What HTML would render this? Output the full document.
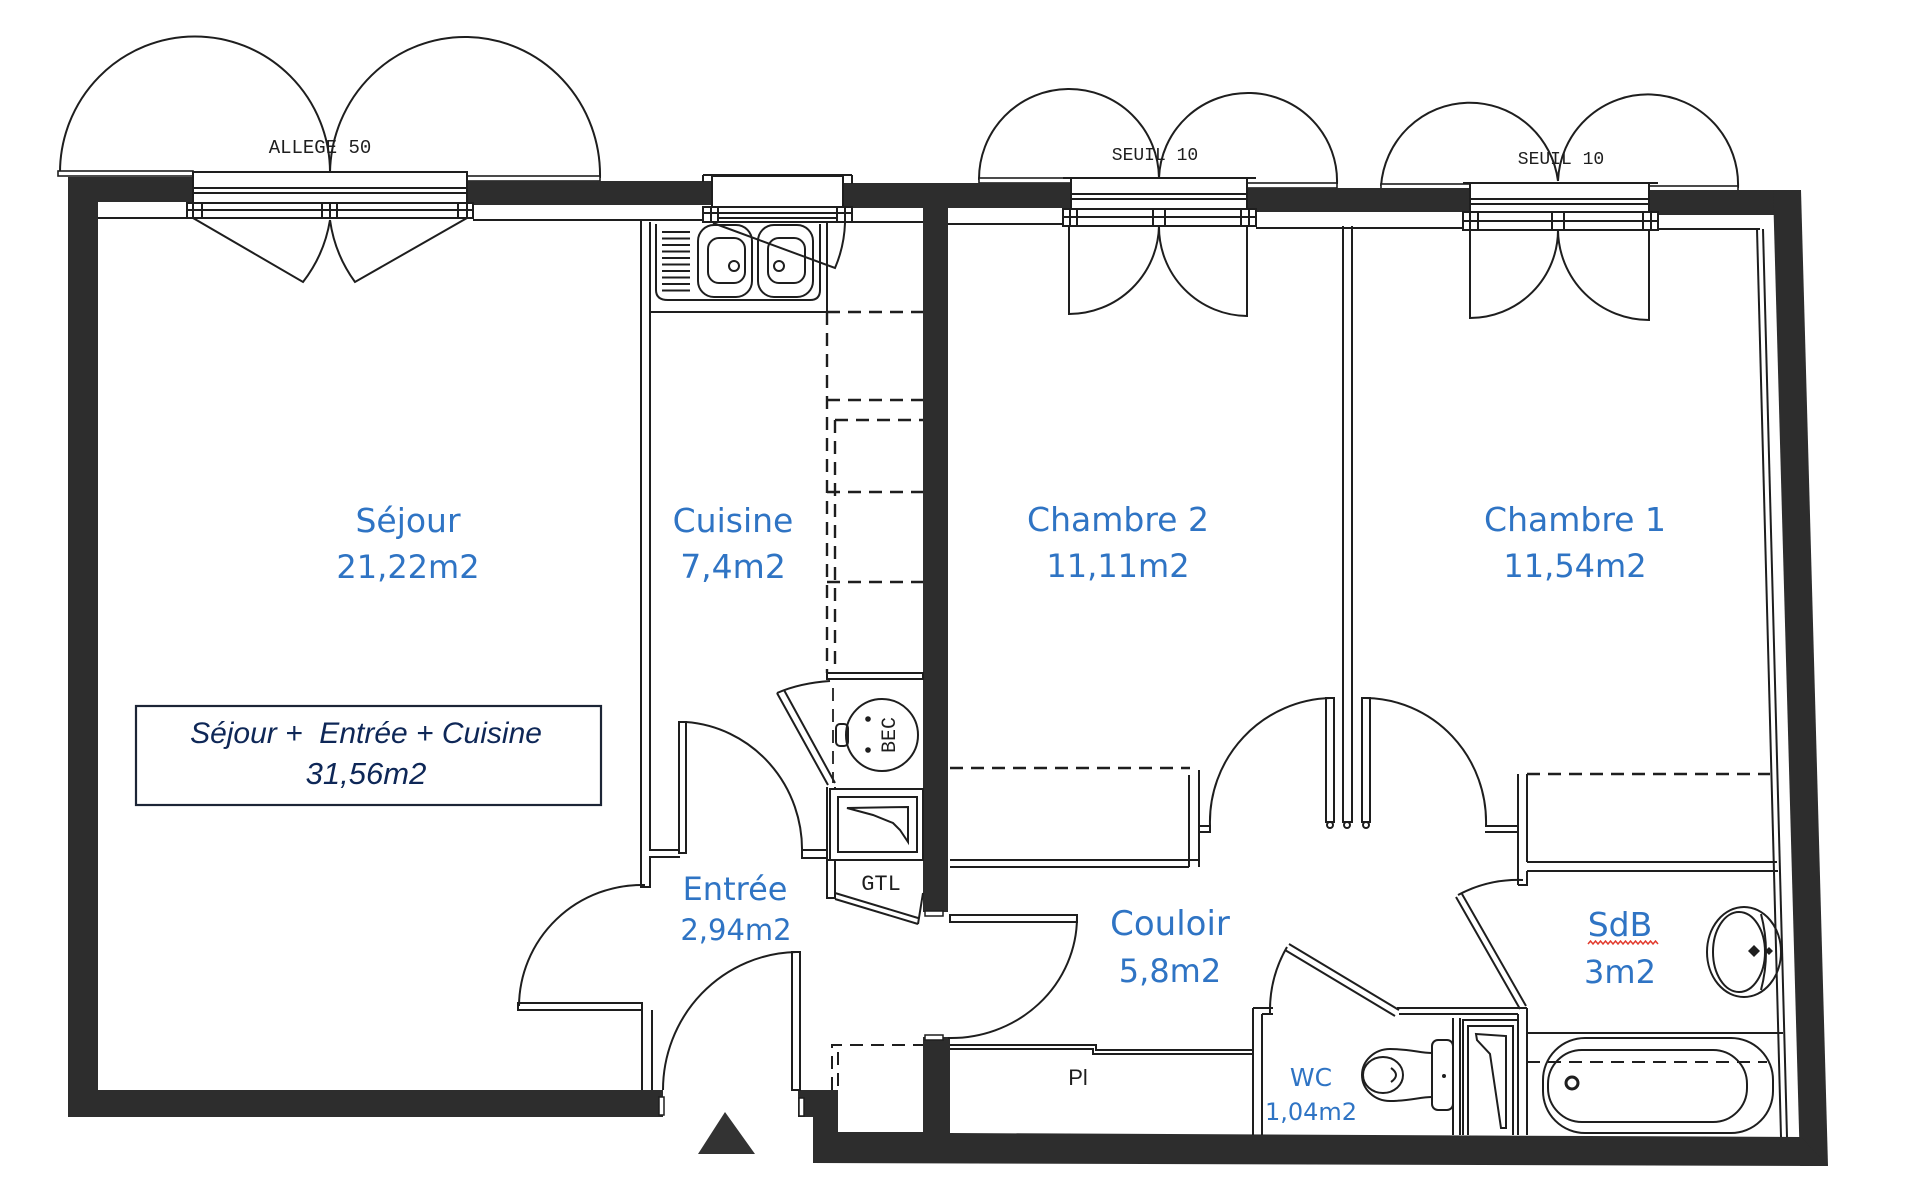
<!DOCTYPE html>
<html><head><meta charset="utf-8">
<style>
html,body{margin:0;padding:0;background:#fff;}
svg{display:block;}
.l{fill:none;stroke:#1e1e1e;stroke-width:2;}
.f{fill:#fff;stroke:#1e1e1e;stroke-width:2;}
.d{fill:none;stroke:#1e1e1e;stroke-width:2.4;stroke-dasharray:13 8;}
.lab{font-family:"DejaVu Sans",sans-serif;fill:#2f74c4;text-anchor:middle;}
.cad{font-family:"Liberation Mono",monospace;fill:#1e1e1e;text-anchor:middle;}
.box{font-family:"Liberation Sans",sans-serif;font-style:italic;fill:#0e2757;text-anchor:middle;}
</style></head><body>
<svg width="1910" height="1200" viewBox="0 0 1910 1200" xmlns="http://www.w3.org/2000/svg">
<rect width="1910" height="1200" fill="#fff"/>

<!-- ===== shutter arcs (outside) ===== -->
<g class="l">
<path d="M60,173 A135,136 0 0 1 330,172"/>
<path d="M330,172 A135,138 0 0 1 600,178"/>
<path d="M979,180 A90,90 0 0 1 1159,178"/>
<path d="M1159,178 A89,88 0 0 1 1337,184"/>
<path d="M1381,186 A89,90 0 0 1 1558,181"/>
<path d="M1558,181 A90,90 0 0 1 1738,188"/>
</g>
<!-- sills -->
<g class="f" style="stroke-width:1.6">
<rect x="58" y="171" width="135" height="5"/>
<rect x="467" y="176" width="133" height="5"/>
<rect x="979" y="178" width="92" height="5"/>
<rect x="1247" y="183" width="90" height="5"/>
<rect x="1381" y="184" width="89" height="5"/>
<rect x="1649" y="186" width="89" height="5"/>
</g>

<!-- ===== black walls ===== -->
<g fill="#2d2d2d">
<rect x="68" y="177" width="30" height="940"/>
<rect x="68" y="177" width="125" height="25"/>
<rect x="467" y="181" width="245" height="24"/>
<rect x="843" y="183" width="228" height="25"/>
<rect x="923" y="183" width="25" height="729"/>
<rect x="1247" y="188" width="223" height="24"/>
<rect x="1649" y="190" width="152" height="25"/>
<polygon points="1773,190 1801,190 1828,1166 1800,1166"/>
<rect x="68" y="1090" width="595" height="27"/>
<polygon points="798,1090 838,1090 838,1132 923,1132 923,1037 950,1037 950,1133 1801,1137 1828,1166 813,1163 813,1117 798,1117"/>
</g>
<!-- caps -->
<g class="f" style="stroke-width:1.5">
<rect x="659" y="1097" width="5" height="18"/>
<rect x="799" y="1098" width="5" height="18"/>
<rect x="925" y="1035" width="18" height="5"/>
<rect x="925" y="911" width="18" height="5"/>
</g>

<!-- ===== windows ===== -->
<g class="l">
<!-- Sejour -->
<rect x="193" y="172" width="274" height="31" class="f"/>
<line x1="193" y1="188" x2="467" y2="188"/><line x1="193" y1="193" x2="467" y2="193"/>
<rect x="187" y="203" width="286" height="15" class="f"/>
<line x1="187" y1="210" x2="473" y2="210"/>
<line x1="193" y1="203" x2="193" y2="218"/><line x1="202" y1="203" x2="202" y2="218"/>
<line x1="322" y1="203" x2="322" y2="218"/><line x1="330" y1="203" x2="330" y2="218"/><line x1="337" y1="203" x2="337" y2="218"/>
<line x1="458" y1="203" x2="458" y2="218"/><line x1="467" y1="203" x2="467" y2="218"/>
<line x1="98" y1="218" x2="187" y2="218"/>
<line x1="473" y1="220" x2="712" y2="220"/>
<!-- Kitchen -->
<rect x="712" y="176" width="131" height="31" class="f"/>
<line x1="703" y1="175" x2="852" y2="175"/>
<line x1="703" y1="175" x2="703" y2="182"/><line x1="852" y1="175" x2="852" y2="184"/>
<rect x="703" y="207" width="149" height="15" class="f"/>
<line x1="703" y1="213" x2="852" y2="213"/><line x1="718" y1="218" x2="837" y2="218"/>
<line x1="711" y1="207" x2="711" y2="222"/><line x1="718" y1="207" x2="718" y2="222"/>
<line x1="837" y1="207" x2="837" y2="222"/><line x1="845" y1="207" x2="845" y2="222"/>
<line x1="852" y1="222" x2="923" y2="222"/>
<!-- Chambre 2 -->
<rect x="1071" y="178" width="176" height="31" class="f"/>
<line x1="1063" y1="178" x2="1256" y2="178"/>
<line x1="1071" y1="194" x2="1247" y2="194"/><line x1="1071" y1="199" x2="1247" y2="199"/>
<rect x="1063" y="209" width="193" height="17" class="f"/>
<line x1="1063" y1="217" x2="1256" y2="217"/>
<line x1="1070" y1="209" x2="1070" y2="226"/><line x1="1077" y1="209" x2="1077" y2="226"/>
<line x1="1153" y1="209" x2="1153" y2="226"/><line x1="1165" y1="209" x2="1165" y2="226"/>
<line x1="1241" y1="209" x2="1241" y2="226"/><line x1="1249" y1="209" x2="1249" y2="226"/>
<line x1="948" y1="224" x2="1063" y2="224"/>
<line x1="1256" y1="228" x2="1463" y2="228"/>
<!-- Chambre 1 -->
<rect x="1470" y="183" width="179" height="29" class="f"/>
<line x1="1463" y1="183" x2="1658" y2="183"/>
<line x1="1470" y1="199" x2="1649" y2="199"/><line x1="1470" y1="204" x2="1649" y2="204"/>
<rect x="1463" y="212" width="195" height="18" class="f"/>
<line x1="1463" y1="221" x2="1658" y2="221"/>
<line x1="1470" y1="212" x2="1470" y2="230"/><line x1="1478" y1="212" x2="1478" y2="230"/>
<line x1="1552" y1="212" x2="1552" y2="230"/><line x1="1564" y1="212" x2="1564" y2="230"/>
<line x1="1643" y1="212" x2="1643" y2="230"/><line x1="1651" y1="212" x2="1651" y2="230"/>
<line x1="1658" y1="229" x2="1760" y2="229"/>
<!-- right wall inner double line -->
<line x1="1757" y1="229" x2="1781" y2="1137"/>
<line x1="1763" y1="229" x2="1787" y2="1137"/>
</g>

<!-- window door leaves (inside) -->
<g class="l">
<path d="M193,218 L303,282 A137,137 0 0 0 330,220"/>
<path d="M467,218 L355,282 A137,137 0 0 1 330,220"/>
<path d="M713,223 L835,268 A125,125 0 0 0 845,223"/>
<path d="M1069,226 L1069,314 A90,90 0 0 0 1159,226"/>
<path d="M1247,226 L1247,316 A89,89 0 0 1 1159,226"/>
<path d="M1470,230 L1470,318 A88,88 0 0 0 1558,230"/>
<path d="M1649,230 L1649,320 A91,91 0 0 1 1558,230"/>
</g>

<!-- ===== texts small CAD ===== -->
<text class="cad" x="320" y="153" font-size="19">ALLEGE 50</text>
<text class="cad" x="1155" y="160" font-size="18">SEUIL 10</text>
<text class="cad" x="1561" y="164" font-size="18">SEUIL 10</text>

<!-- ===== Kitchen ===== -->
<g class="l">
<!-- left wall of kitchen / sejour -->
<path d="M641,220 V887 H650 V857 H680"/>
<path d="M650,222 V850 H680"/>
<!-- kitchen door -->
<rect x="679" y="722" width="7" height="131" class="f"/>
<path d="M686,722 A125,128 0 0 1 802,853"/>
<rect x="802" y="850" width="25" height="8" class="f"/>
<path d="M827,787 V898 H835 V787"/>
<!-- sink counter -->
<path d="M650,312 H827 V222"/>
<path d="M656,224 V290 Q656,300 668,300 H810 Q820,300 820,290 V224"/>
<!-- drainer -->
<path d="M662,232 H690 M662,238.5 H690 M662,245 H690 M662,251.5 H690 M662,258 H690 M662,264.5 H690 M662,271 H690 M662,277.5 H690 M662,284 H690 M662,290.5 H690"/>
<rect x="698" y="225" width="54" height="72" rx="16"/>
<rect x="708" y="238" width="37" height="45" rx="11"/>
<circle cx="734" cy="266" r="5"/>
<rect x="758" y="225" width="55" height="72" rx="16"/>
<rect x="768" y="238" width="37" height="45" rx="11"/>
<circle cx="779" cy="266" r="5"/>
<!-- BEC -->
<rect x="827" y="673" width="96" height="6" class="f"/>
<path d="M777,693 L828,785 M784,690 L835,783"/>
<path d="M777,693 Q800,683 830,681"/>
<circle cx="882" cy="735" r="36"/>
<rect x="836" y="724" width="12" height="22" rx="4"/>
<!-- panel -->
<rect x="830" y="789" width="93" height="71" class="f"/>
<rect x="838" y="797" width="79" height="55"/>
<path d="M847,808 L908,807 L908,842 L900,830 L893,823 L873,815 Z"/>
<!-- GTL box -->
<path d="M827,860 H923"/>
<path d="M835,893 L918,918 M835,899 L918,924 M918,924 L923,893"/>
</g>
<circle cx="868" cy="719" r="2.8" fill="#1e1e1e"/>
<circle cx="868" cy="750" r="2.8" fill="#1e1e1e"/>
<text class="cad" font-size="20" transform="translate(895,735) rotate(-90)" x="0" y="0">BEC</text>
<text class="cad" x="881" y="890" font-size="22">GTL</text>
<!-- kitchen dashed -->
<g class="d">
<path d="M827,312 V673"/>
<path d="M835,420 V673"/>
<path d="M827,312 H923"/>
<path d="M827,400 H923"/>
<path d="M835,420 H923"/>
<path d="M827,492 H923"/>
<path d="M827,582 H923"/>
<path d="M833,688 V783" style="stroke-width:1.8"/>
</g>

<!-- ===== Sejour / Entree doors ===== -->
<g class="l">
<rect x="518" y="1003" width="124" height="7" class="f"/>
<path d="M645,885 A123,122 0 0 0 519,1006"/>
<path d="M642,1003 V1090 M652,1010 V1090"/>
<rect x="792" y="952" width="8" height="138" class="f"/>
<path d="M796,952 A136,138 0 0 0 663,1090"/>
</g>
<polygon points="725,1112 698,1154 755,1154" fill="#333"/>
<g class="d" style="stroke-width:2">
<path d="M832,1090 V1045 H923"/>
<path d="M838,1052 V1090"/>
</g>

<!-- ===== Chambre 2 / Couloir ===== -->
<g class="d"><path d="M950,768 H1190"/><path d="M1527,774 H1770"/></g>
<g class="l">
<path d="M950,860 H1199 M950,867 H1189"/>
<path d="M1189,775 V867 M1199,770 V867"/>
<path d="M1199,826 H1210 V832 H1199"/>
<!-- central wall -->
<path d="M1343,226 V822 H1352 V226"/>
<rect x="1326" y="698" width="8" height="124" class="f"/>
<rect x="1362" y="698" width="8" height="124" class="f"/>
<path d="M1330,698 A124,124 0 0 0 1210,826"/>
<path d="M1366,698 A122,124 0 0 1 1486,826"/>
<circle cx="1330" cy="825" r="3"/><circle cx="1347" cy="825" r="3"/><circle cx="1366" cy="825" r="3"/>
<!-- chambre 1 / sdb walls -->
<path d="M1518,774 V885 M1527,774 V862"/>
<path d="M1485,826 H1518 M1485,832 H1518"/>
<path d="M1527,862 H1777 M1527,871 H1778"/>
<path d="M1518,885 H1527 V871"/>
<!-- couloir door -->
<rect x="950" y="915" width="127" height="7" class="f"/>
<path d="M1077,918 A126,121 0 0 1 948,1038"/>
<!-- placard -->
<path d="M950,1045 H1096 V1050 H1253 M950,1049 H1093 V1054 H1253"/>
<!-- WC -->
<path d="M1253,1008 V1135 M1262,1014 V1135"/>
<path d="M1253,1008 H1273 M1262,1014 H1273"/>
<path d="M1270,1013 A127,127 0 0 1 1287,947"/>
<path d="M1285,950 L1395,1016 M1289,944 L1399,1010"/>
<path d="M1397,1008 H1527 M1399,1014 H1518"/>
<path d="M1518,1014 V1135 M1527,1008 V1135"/>
<path d="M1453,1018 V1135 M1460,1018 V1135"/>
<path d="M1463,1135 V1020 H1518 M1468,1135 V1026 H1513 V1135"/>
<path d="M1476,1034 L1506,1036 L1506,1128 L1501,1128 L1490,1054 L1477,1040 Z"/>
<path d="M1432,1053 C1420,1053 1410,1049 1390,1049 A28,26 0 0 0 1390,1101 C1410,1101 1420,1097 1432,1097"/>
<ellipse cx="1383" cy="1075" rx="20" ry="18"/>
<path d="M1391,1068 Q1401,1075 1391,1082"/>
<rect x="1432" y="1040" width="21" height="70" rx="6"/>
<!-- SdB door -->
<path d="M1456,897 L1520,1009 M1462,894 L1526,1006"/>
<path d="M1458,895 A128,128 0 0 1 1523,880"/>
<!-- SdB fixtures -->
<path d="M1527,1033 H1783"/>
<rect x="1543" y="1038" width="230" height="95" rx="42"/>
<rect x="1548" y="1050" width="199" height="72" rx="34"/>
<circle cx="1572" cy="1083" r="6" style="stroke-width:3"/>
<ellipse cx="1744" cy="952" rx="37" ry="45"/>
<ellipse cx="1739" cy="952" rx="26" ry="40"/>
<path d="M1761,914 Q1771,952 1761,990"/>
</g>
<circle cx="1444" cy="1076" r="2" fill="#1e1e1e"/>
<polygon points="1754,945 1760,951 1754,957 1748,951" fill="#1e1e1e"/>
<polygon points="1769,947 1773,951 1769,955 1765,951" fill="#1e1e1e"/>
<path class="d" d="M1527,1062 H1767" style="stroke-width:2"/>
<text x="1078" y="1085" font-family="Liberation Sans, sans-serif" font-size="22" fill="#1e1e1e" text-anchor="middle">Pl</text>

<!-- ===== Box ===== -->
<rect x="136" y="706" width="465" height="99" fill="none" stroke="#1c2536" stroke-width="2.2"/>
<text class="box" x="366" y="743" font-size="30" style="white-space:pre">Séjour +  Entrée + Cuisine</text>
<text class="box" x="366" y="784" font-size="31">31,56m2</text>

<!-- ===== Room labels ===== -->
<text class="lab" x="408" y="532" font-size="33">Séjour</text>
<text class="lab" x="408" y="578" font-size="32">21,22m2</text>
<text class="lab" x="733" y="532" font-size="33">Cuisine</text>
<text class="lab" x="733" y="578" font-size="33">7,4m2</text>
<text class="lab" x="1118" y="531" font-size="33">Chambre 2</text>
<text class="lab" x="1118" y="577" font-size="32">11,11m2</text>
<text class="lab" x="1575" y="531" font-size="33">Chambre 1</text>
<text class="lab" x="1575" y="577" font-size="32">11,54m2</text>
<text class="lab" x="735" y="900" font-size="32">Entrée</text>
<text class="lab" x="736" y="940" font-size="29">2,94m2</text>
<text class="lab" x="1170" y="935" font-size="34">Couloir</text>
<text class="lab" x="1170" y="982" font-size="32">5,8m2</text>
<text class="lab" x="1620" y="936" font-size="33">SdB</text>
<text class="lab" x="1620" y="983" font-size="32">3m2</text>
<path d="M1588,944 l2.5,-3 l2.5,3 l2.5,-3 l2.5,3 l2.5,-3 l2.5,3 l2.5,-3 l2.5,3 l2.5,-3 l2.5,3 l2.5,-3 l2.5,3 l2.5,-3 l2.5,3 l2.5,-3 l2.5,3 l2.5,-3 l2.5,3 l2.5,-3 l2.5,3 l2.5,-3 l2.5,3 l2.5,-3 l2.5,3 l2.5,-3 l2.5,3 l2.5,-3 l2.5,3" fill="none" stroke="#e23b2e" stroke-width="1.5"/>
<text class="lab" x="1311" y="1086" font-size="25">WC</text>
<text class="lab" x="1311" y="1120" font-size="24">1,04m2</text>
</svg>
</body></html>
